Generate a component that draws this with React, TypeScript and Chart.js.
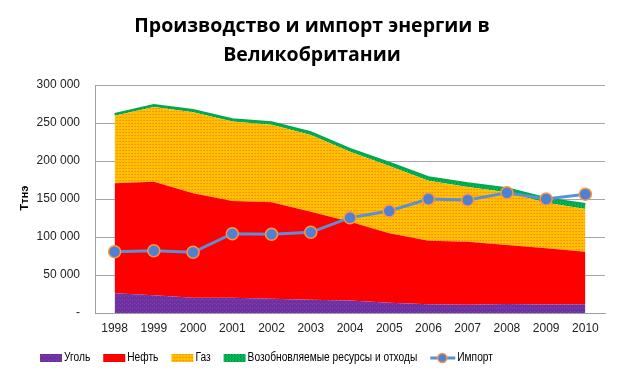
import React, { useEffect, useRef } from "react";
import { Chart, registerables } from "chart.js";

Chart.register(...registerables);

const years = ["1998", "1999", "2000", "2001", "2002", "2003", "2004", "2005", "2006", "2007", "2008", "2009", "2010"];
const coal = [26000, 23300, 20200, 20200, 18800, 17500, 16500, 13600, 11400, 11000, 11800, 11200, 11600];
const oil = [144700, 149500, 137300, 127200, 126900, 115800, 103700, 91300, 83800, 82900, 77700, 73900, 69100];
const gas = [88700, 98200, 106800, 104600, 102000, 101000, 92000, 88400, 78700, 72000, 69400, 60000, 56300];
const renewables = [2500, 2700, 2800, 2900, 3200, 3500, 3800, 4500, 4700, 4800, 5200, 5800, 6400];
const imports = [80700, 82000, 79900, 104400, 103500, 106200, 125400, 134200, 150000, 148700, 158300, 150000, 156200];

const titleLines = ["Производство и импорт энергии в", "Великобритании"];
const yAxisTitle = "Ттнэ";
const legendLabels = ["Уголь", "Нефть", "Газ", "Возобновляемые ресурсы и отходы", "Импорт"];

const FONT = "'Liberation Sans', Arial, sans-serif";
const TITLE_FONT = "'Open Sans', 'Liberation Sans', sans-serif";

function makePattern(base: string, dots: string[], size: number) {
  const c = document.createElement("canvas");
  c.width = size;
  c.height = size;
  const g = c.getContext("2d")!;
  g.fillStyle = base;
  g.fillRect(0, 0, size, size);
  dots.forEach((d, i) => {
    g.fillStyle = d;
    const x = (i * 2) % size;
    const y = (i * 2 + (i % 2)) % size;
    g.fillRect(x, y, 1, 1);
  });
  const ctx = document.createElement("canvas").getContext("2d")!;
  return ctx.createPattern(c, "repeat")!;
}

export default function App() {
  const ref = useRef<HTMLCanvasElement | null>(null);

  useEffect(() => {
    const canvas = ref.current!;
    const coalFill = makePattern("#7030A0", ["#4A5AC8", "#9A3AA8"], 4);
    const gasFill = makePattern("#FFC000", ["#FF8A10", "#FF9A10"], 3);
    const renFill = makePattern("#00B050", ["#008A40", "#20C060"], 3);

    const legendColors = [coalFill, "#FF0000", gasFill, renFill];

    const overlay = {
      id: "overlay",
      afterDraw(chart: any) {
        const ctx = chart.ctx as CanvasRenderingContext2D;
        ctx.save();
        // title
        ctx.fillStyle = "#000000";
        ctx.font = `bold 19.5px ${TITLE_FONT}`;
        ctx.textAlign = "center";
        ctx.textBaseline = "middle";
        ctx.fillText(titleLines[0], 312, 26);
        ctx.fillText(titleLines[1], 312, 55);
        // y axis title
        ctx.save();
        ctx.translate(25, 198);
        ctx.rotate(-Math.PI / 2);
        ctx.font = `bold 11px ${FONT}`;
        ctx.fillText(yAxisTitle, 0, 0);
        ctx.restore();
        // legend
        const sx = 0.85;
        ctx.font = `12px ${FONT}`;
        ctx.textAlign = "left";
        ctx.fillStyle = "#000000";
        const y = 358;
        const boxW = 22;
        const gap = 13;
        const drawText = (t: string, tx: number) => {
          ctx.save();
          ctx.translate(tx, y);
          ctx.scale(sx, 1);
          ctx.fillStyle = "#000000";
          ctx.fillText(t, 0, 0);
          ctx.restore();
        };
        const widths = legendLabels.map((l, i) => boxW + 2 + ctx.measureText(l).width * sx + (i === 4 ? 3 : 0));
        let x = 40;
        legendLabels.forEach((label, i) => {
          if (i < 4) {
            ctx.fillStyle = legendColors[i] as any;
            ctx.fillRect(x, y - 4, boxW, 8);
            drawText(label, x + boxW + 2);
          } else {
            ctx.strokeStyle = "#5B8FD6";
            ctx.lineWidth = 3;
            ctx.beginPath();
            ctx.moveTo(x, y);
            ctx.lineTo(x + boxW + 3, y);
            ctx.stroke();
            ctx.beginPath();
            ctx.arc(x + 12, y, 4.5, 0, Math.PI * 2);
            ctx.fillStyle = "#4F81D0";
            ctx.fill();
            ctx.lineWidth = 1.5;
            ctx.strokeStyle = "#F79646";
            ctx.stroke();
            drawText(label, x + boxW + 5);
          }
          x += widths[i] + gap;
        });
        ctx.restore();
      },
    };

    const chart = new Chart(canvas, {
      type: "line",
      data: {
        labels: years,
        datasets: [
          {
            label: legendLabels[0],
            data: coal,
            stack: "prod",
            fill: "origin",
            backgroundColor: coalFill as any,
            borderWidth: 0,
            pointRadius: 0,
            tension: 0,
          },
          {
            label: legendLabels[1],
            data: oil,
            stack: "prod",
            fill: "-1",
            backgroundColor: "#FF0000",
            borderWidth: 0,
            pointRadius: 0,
            tension: 0,
          },
          {
            label: legendLabels[2],
            data: gas,
            stack: "prod",
            fill: "-1",
            backgroundColor: gasFill as any,
            borderWidth: 0,
            pointRadius: 0,
            tension: 0,
          },
          {
            label: legendLabels[3],
            data: renewables,
            stack: "prod",
            fill: "-1",
            backgroundColor: renFill as any,
            borderColor: "#00A850",
            borderWidth: 2,
            pointRadius: 0,
            tension: 0,
          },
          {
            label: legendLabels[4],
            data: imports,
            stack: "imp",
            fill: false,
            order: -1,
            borderColor: "#5B8FD6",
            borderWidth: 3,
            pointRadius: 6,
            pointBackgroundColor: "#4F81D0",
            pointBorderColor: "#F79646",
            pointBorderWidth: 1.5,
            tension: 0,
          },
        ],
      },
      options: {
        responsive: false,
        animation: false,
        layout: { padding: { left: 0, top: 85, right: 19, bottom: 0 } },
        plugins: {
          legend: { display: false },
          title: { display: false },
          tooltip: { enabled: false },
        },
        scales: {
          x: {
            type: "category",
            offset: true,
            grid: { display: false, drawTicks: false },
            border: { display: true, color: "#A0A0A0", width: 1 },
            ticks: {
              color: "#222222",
              font: { family: FONT, size: 12 },
              padding: 8,
              maxRotation: 0,
              autoSkip: false,
            },
            afterFit: (s: any) => {
              s.height = 65;
            },
          },
          y: {
            stacked: true,
            min: 0,
            max: 300000,
            grid: { color: "#A6A6A6", drawTicks: false, lineWidth: 1 },
            border: { display: true, color: "#A0A0A0", width: 1 },
            ticks: {
              stepSize: 50000,
              color: "#222222",
              font: { family: FONT, size: 12 },
              padding: 15,
              callback: (v: any) => (Number(v) === 0 ? "-" : Number(v).toLocaleString("en-US").replace(/,/g, " ")),
            },
            afterFit: (s: any) => {
              s.width = 95;
            },
          },
        },
      },
      plugins: [overlay],
    });
    return () => chart.destroy();
  }, []);

  return (
    <div style={{ position: "fixed", left: 0, top: 0, width: 624, height: 378, background: "#fff" }}>
      <canvas ref={ref} width={624} height={378} />
    </div>
  );
}
